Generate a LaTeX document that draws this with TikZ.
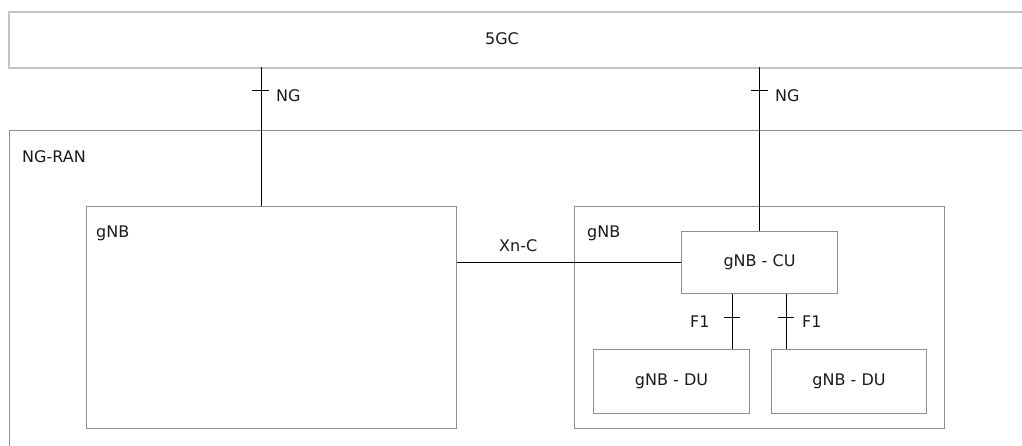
\documentclass[tikz,border=0pt]{standalone}
\usepackage{fontspec}
\setmainfont{DejaVu Sans}
\usetikzlibrary{calc}
\definecolor{boxgray}{HTML}{8E8E8E}
\definecolor{coregray}{HTML}{C4C4C4}
\definecolor{txt}{HTML}{1A1A1A}
\begin{document}
\begin{tikzpicture}[x=1pt,y=-1pt,
  every node/.style={font=\fontsize{16}{19}\selectfont, text=txt},
  unitbox/.style={draw=boxgray, line width=1pt, rectangle, inner sep=0pt, anchor=north west},
  conn/.style={draw=black, line width=1pt},
  lbl/.style={inner sep=0pt, anchor=base west}]
\useasboundingbox (0,0) rectangle (1022,445);
\fill[white] (0,0) rectangle (1022,445);
% 5GC
\draw[coregray, line width=2pt] (1023,12) -- (9,12) -- (9,68) -- (1023,68);
\node[inner sep=0pt] (core) at (502,39) {5GC};
% NG-RAN
\draw[boxgray, line width=1pt] (1023,130) -- (9,130) -- (9,446);
\node[lbl] (ran) at (22,162) {NG-RAN};
% gNBs
\node[unitbox, minimum width=370pt, minimum height=222pt] (gnbL) at (86,206) {};
\node[lbl] (gnbLlbl) at (96,237) {gNB};
\node[unitbox, minimum width=370pt, minimum height=222pt] (gnbR) at (574,206) {};
\node[lbl] (gnbRlbl) at (587,237) {gNB};
\node[unitbox, minimum width=156pt, minimum height=62pt] (cu) at (681,231) {};
\node (culbl) at (cu.center) {gNB - CU};
\node[unitbox, minimum width=156pt, minimum height=64pt] (du1) at (593,349) {};
\node (du1lbl) at (du1.center) {gNB - DU};
\node[unitbox, minimum width=155pt, minimum height=64pt] (du2) at (771,349) {};
\node (du2lbl) at (du2.center) {gNB - DU};
% NG connectors
\coordinate (ngL) at (261,67);
\coordinate (ngR) at (759,67);
\draw[conn] (ngL) -- (ngL |- gnbL.north);
\draw[conn] (252,90) -- (269,90);
\node[lbl] (ngLlbl) at (276,101) {NG};
\draw[conn] (ngR) -- (ngR |- cu.north);
\draw[conn] (751,90) -- (768,90);
\node[lbl] (ngRlbl) at (775,101) {NG};
% Xn-C
\draw[conn] (gnbL.east |- 0,262) -- (cu.west |- 0,262);
\node[lbl] (xn) at (499,251) {Xn-C};
% F1
\coordinate (f1a) at (732,0);
\coordinate (f1b) at (786,0);
\draw[conn] (f1a |- cu.south) -- (f1a |- du1.north);
\draw[conn] (724,317) -- (740,317);
\node[lbl] (f1albl) at (690,327) {F1};
\draw[conn] (f1b |- cu.south) -- (f1b |- du2.north);
\draw[conn] (778,317) -- (794,317);
\node[lbl] (f1blbl) at (802,327) {F1};
\end{tikzpicture}
\end{document}
